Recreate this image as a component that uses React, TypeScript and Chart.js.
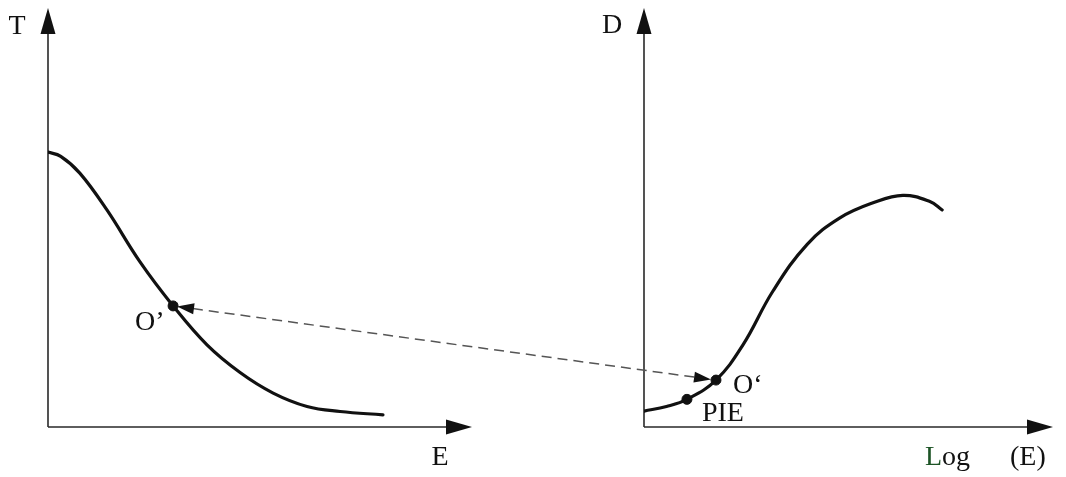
import { useEffect, useRef } from 'react';
import { Chart, registerables } from 'chart.js';

Chart.register(...registerables);

// Left panel: T as a function of E
const energyE = [0, 0.3, 0.75, 1.39, 2.17, 2.95, 3.75, 4.53, 5.31, 6.11, 6.89, 7.9];
const valuesT = [65.6, 64.6, 60.6, 51.8, 39.4, 28.9, 19.6, 13.0, 8.1, 4.9, 3.7, 2.9];

// Right panel: D as a function of Log(E)
const logE = [0, 0.55, 1.05, 1.76, 2.42, 3.15, 3.99, 4.79, 5.6, 6.33, 6.99, 7.29];
const valuesD = [3.8, 4.9, 6.6, 11.2, 19.6, 32.4, 43.6, 49.9, 53.5, 55.3, 53.8, 51.8];

// Marked points (indices into the curves above)
const oLeftIndex = 5; // O' on the T–E curve
const oRightIndex = 3; // O' on the D–Log(E) curve
const pieIndex = 2; // PIE on the D–Log(E) curve

// Axis ranges
const axisMin = 0;
const axisMaxX = 10;
const axisMaxY = 100;

const INK = '#111111';
const AXIS = '#2a2a2a';
const FONT = '28px "Liberation Serif", "DejaVu Serif", serif';

const tPoints = energyE.map((x, i) => ({ x, y: valuesT[i] }));
const dPoints = logE.map((x, i) => ({ x, y: valuesD[i] }));

function arrowHead(ctx: CanvasRenderingContext2D, tipX: number, tipY: number, ux: number, uy: number, len: number, half: number) {
  // (ux, uy) is the unit direction the arrow points to
  const bx = tipX - ux * len;
  const by = tipY - uy * len;
  ctx.beginPath();
  ctx.moveTo(tipX, tipY);
  ctx.lineTo(bx - uy * half, by + ux * half);
  ctx.lineTo(bx + uy * half, by - ux * half);
  ctx.closePath();
  ctx.fill();
}

function drawAxes(ctx: CanvasRenderingContext2D, xs: any, ys: any) {
  const ox = xs.getPixelForValue(axisMin);
  const oy = ys.getPixelForValue(axisMin);
  const top = ys.getPixelForValue(axisMaxY);
  const right = xs.getPixelForValue(axisMaxX);
  ctx.save();
  ctx.strokeStyle = AXIS;
  ctx.fillStyle = '#111';
  ctx.lineWidth = 1.6;
  ctx.beginPath();
  ctx.moveTo(ox, oy);
  ctx.lineTo(ox, top + 20);
  ctx.moveTo(ox, oy);
  ctx.lineTo(right - 20, oy);
  ctx.stroke();
  arrowHead(ctx, ox, top, 0, -1, 26, 7.5);
  arrowHead(ctx, right, oy, 1, 0, 26, 7.5);
  ctx.restore();
  return { ox, oy, top, right };
}

const diagramPlugin = {
  id: 'diagram',
  beforeDatasetsDraw(chart: any) {
    const ctx: CanvasRenderingContext2D = chart.ctx;
    const { xL, xR, yT, yD } = chart.scales;
    const left = drawAxes(ctx, xL, yT);
    const rightPanel = drawAxes(ctx, xR, yD);

    ctx.save();
    ctx.font = FONT;
    ctx.fillStyle = INK;
    ctx.textBaseline = 'alphabetic';
    ctx.textAlign = 'center';
    ctx.fillText('T', left.ox - 31, left.top + 26);
    ctx.fillText('D', rightPanel.ox - 32, rightPanel.top + 25);
    ctx.fillText('E', left.right - 32, left.oy + 38);
    ctx.textAlign = 'left';
    const lx = rightPanel.right - 128;
    const ly = rightPanel.oy + 38;
    ctx.fillStyle = '#1d5426';
    ctx.fillText('L', lx, ly);
    const lw = ctx.measureText('L').width;
    ctx.fillStyle = INK;
    ctx.fillText('og', lx + lw, ly);
    ctx.fillText('(E)', rightPanel.right - 43, ly);
    ctx.restore();
  },
  afterDatasetsDraw(chart: any) {
    const ctx: CanvasRenderingContext2D = chart.ctx;
    const { xL, xR, yT, yD } = chart.scales;
    const p1 = { x: xL.getPixelForValue(energyE[oLeftIndex]), y: yT.getPixelForValue(valuesT[oLeftIndex]) };
    const p2 = { x: xR.getPixelForValue(logE[oRightIndex]), y: yD.getPixelForValue(valuesD[oRightIndex]) };
    const pie = { x: xR.getPixelForValue(logE[pieIndex]), y: yD.getPixelForValue(valuesD[pieIndex]) };

    // double-headed dashed link between the two O' points
    const dx = p2.x - p1.x;
    const dy = p2.y - p1.y;
    const len = Math.hypot(dx, dy);
    const ux = dx / len;
    const uy = dy / len;
    const a = { x: p1.x + ux * 4, y: p1.y + uy * 4 };
    const b = { x: p2.x - ux * 5, y: p2.y - uy * 5 };
    ctx.save();
    ctx.strokeStyle = '#555';
    ctx.lineWidth = 1.5;
    ctx.setLineDash([10, 6]);
    ctx.beginPath();
    ctx.moveTo(a.x + ux * 16, a.y + uy * 16);
    ctx.lineTo(b.x - ux * 16, b.y - uy * 16);
    ctx.stroke();
    ctx.setLineDash([]);
    ctx.fillStyle = '#111';
    arrowHead(ctx, a.x, a.y, -ux, -uy, 17, 5.5);
    arrowHead(ctx, b.x, b.y, ux, uy, 17, 5.5);

    ctx.font = FONT;
    ctx.fillStyle = INK;
    ctx.textAlign = 'left';
    ctx.textBaseline = 'alphabetic';
    ctx.fillText('O\u2019', p1.x - 38, p1.y + 24);
    ctx.fillText('O\u2018', p2.x + 17, p2.y + 13);
    ctx.fillText('PIE', pie.x + 15, pie.y + 22);
    ctx.restore();
  },
};

function buildConfig(): any {
  const curve = {
    borderColor: INK,
    borderWidth: 3.2,
    pointRadius: 0,
    fill: false,
    tension: 0.4,
    borderCapStyle: 'round',
    borderJoinStyle: 'round',
  };
  const dot = {
    showLine: false,
    pointRadius: 5,
    pointBackgroundColor: '#111',
    pointBorderColor: '#111',
    borderColor: '#111',
  };
  return {
    type: 'line',
    data: {
      datasets: [
        { ...curve, label: 'T', data: tPoints, xAxisID: 'xL', yAxisID: 'yT' },
        { ...curve, label: 'D', data: dPoints, xAxisID: 'xR', yAxisID: 'yD' },
        { ...dot, label: "O'", data: [tPoints[oLeftIndex]], xAxisID: 'xL', yAxisID: 'yT' },
        { ...dot, label: 'O‘', data: [dPoints[oRightIndex]], xAxisID: 'xR', yAxisID: 'yD' },
        { ...dot, label: 'PIE', data: [dPoints[pieIndex]], xAxisID: 'xR', yAxisID: 'yD' },
      ],
    },
    options: {
      animation: false,
      responsive: false,
      events: [],
      layout: { padding: { left: 48, right: 13, top: 8, bottom: 50 } },
      plugins: { legend: { display: false }, tooltip: { enabled: false }, title: { display: false } },
      scales: {
        xL: { type: 'linear', axis: 'x', position: 'bottom', stack: 'row', stackWeight: 424, min: axisMin, max: axisMaxX, display: false },
        gap: { type: 'linear', axis: 'x', position: 'bottom', stack: 'row', stackWeight: 172, min: 0, max: 1, display: false },
        xR: { type: 'linear', axis: 'x', position: 'bottom', stack: 'row', stackWeight: 409, min: axisMin, max: axisMaxX, display: false },
        yT: { type: 'linear', axis: 'y', position: 'left', min: axisMin, max: axisMaxY, display: false },
        yD: { type: 'linear', axis: 'y', position: 'left', min: axisMin, max: axisMaxY, display: false },
      },
    },
    plugins: [diagramPlugin],
  };
}

export default function App() {
  const canvasRef = useRef<HTMLCanvasElement>(null);
  useEffect(() => {
    const chart = new Chart(canvasRef.current as HTMLCanvasElement, buildConfig());
    return () => chart.destroy();
  }, []);
  return (
    <div style={{ position: 'absolute', left: 0, top: 0, width: 1066, height: 477, background: '#fff' }}>
      <canvas ref={canvasRef} width={1066} height={477} style={{ display: 'block' }} />
    </div>
  );
}
